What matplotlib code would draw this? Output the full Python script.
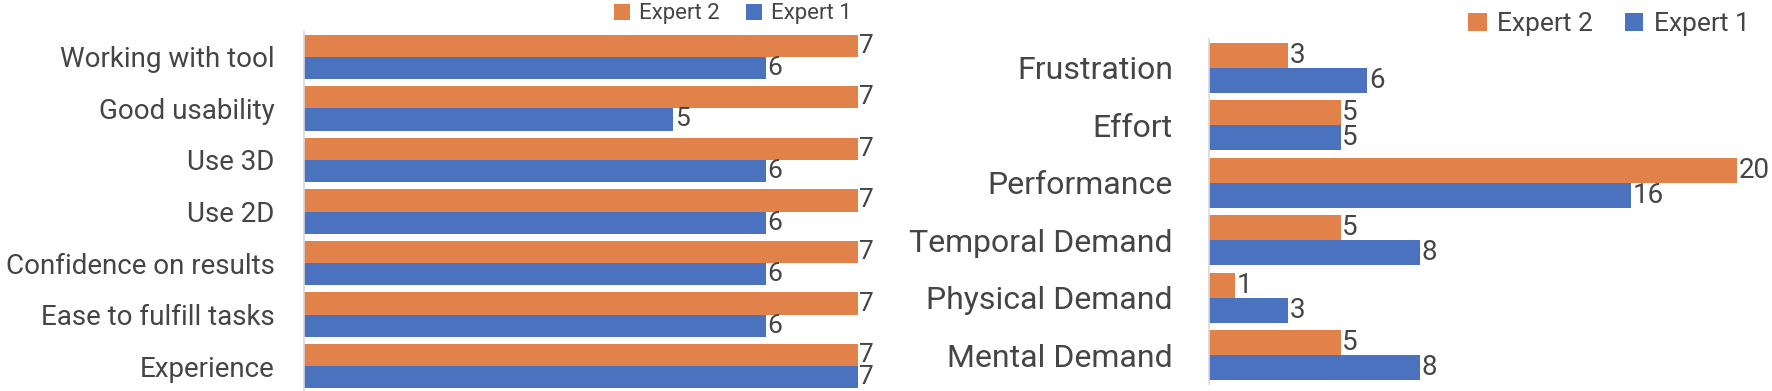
import matplotlib
matplotlib.use("Agg")
import matplotlib.pyplot as plt
import numpy as np

# left chart: questionnaire answers
q_labels = ["Working with tool", "Good usability", "Use 3D", "Use 2D",
            "Confidence on results", "Ease to fulfill tasks", "Experience"]
q_expert2 = [7, 7, 7, 7, 7, 7, 7]
q_expert1 = [6, 5, 6, 6, 6, 6, 7]

# right chart: workload (NASA TLX style)
w_labels = ["Frustration", "Effort", "Performance", "Temporal Demand",
            "Physical Demand", "Mental Demand"]
w_expert2 = [3, 5, 20, 5, 1, 5]
w_expert1 = [6, 5, 16, 8, 3, 8]

orange = "#E0824A"
blue = "#4B72BE"
txt = "#454545"
plt.rcParams["font.family"] = ["Roboto", "DejaVu Sans"]

W, H = 1772, 391
fig = plt.figure(figsize=(W / 100, H / 100), dpi=100)


def draw(ax, labels, e2, e1, xlim, fs, vfs, pad, bar_h):
    n = len(labels)
    y = np.arange(n)[::-1]
    b2 = ax.barh(y + bar_h / 2, e2, height=bar_h, color=orange, label="Expert 2")
    b1 = ax.barh(y - bar_h / 2, e1, height=bar_h, color=blue, label="Expert 1")
    ax.bar_label(b2, padding=1, fontsize=vfs, color=txt)
    ax.bar_label(b1, padding=1, fontsize=vfs, color=txt)
    ax.set_yticks(y)
    ax.set_yticklabels(labels, fontsize=fs, color=txt)
    ax.tick_params(axis="y", length=0, pad=pad)
    ax.set_xlim(*xlim)
    ax.set_ylim(-0.5, n - 0.5)
    ax.set_xticks([])
    for s in ["top", "right", "bottom"]:
        ax.spines[s].set_visible(False)
    ax.spines["left"].set_color("#D9D9D9")
    ax.spines["left"].set_linewidth(1.2)
    for lab in ax.texts:
        lab.set_clip_on(False)
    return b2, b1


ax1 = fig.add_axes([304 / W, -1 / H, 554 / W, 361 / H])
h2, h1 = draw(ax1, q_labels, q_expert2, q_expert1, (1, 7), 20, 19, 21, 0.43)
ax1.legend([h2, h1], ["Expert 2", "Expert 1"], loc="center",
           bbox_to_anchor=(733 / W, 1 - 14 / H), bbox_transform=fig.transFigure,
           ncol=2, frameon=False, fontsize=16, handlelength=0.7, handleheight=0.7,
           handletextpad=0.4, columnspacing=1.2, labelcolor=txt)

ax2 = fig.add_axes([1209 / W, (H - 384) / H, 528 / W, 345 / H])
h2, h1 = draw(ax2, w_labels, w_expert2, w_expert1, (0, 20), 23, 20, 26, 0.435)
ax2.legend([h2, h1], ["Expert 2", "Expert 1"], loc="center",
           bbox_to_anchor=(1609 / W, 1 - 24 / H), bbox_transform=fig.transFigure,
           ncol=2, frameon=False, fontsize=19, handlelength=0.7, handleheight=0.7,
           handletextpad=0.4, columnspacing=1.2, labelcolor=txt)

fig.savefig("out.png", dpi=100)
